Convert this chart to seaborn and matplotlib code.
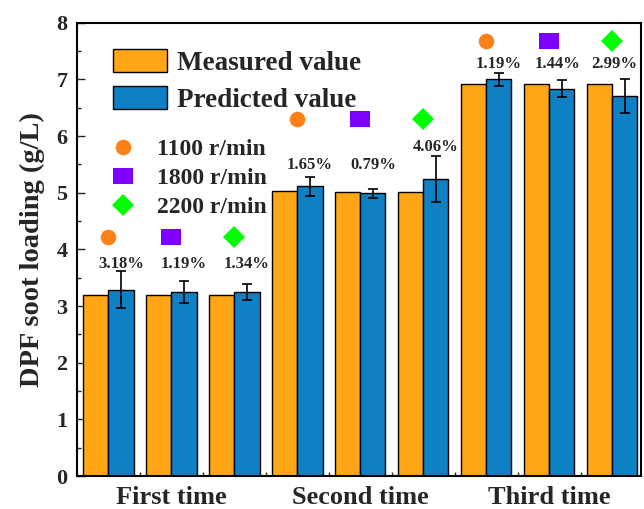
import matplotlib
matplotlib.use("Agg")
import matplotlib.pyplot as plt
import numpy as np
import pandas as pd
import seaborn as sns
from matplotlib.lines import Line2D
from matplotlib.patches import Patch

# values
runs = ["First time", "Second time", "Third time"]
speeds = ["1100 r/min", "1800 r/min", "2200 r/min"]
measured = [3.19, 3.19, 3.19, 5.03, 5.02, 5.02, 6.92, 6.92, 6.92]
predicted = [3.29, 3.25, 3.24, 5.11, 4.99, 5.24, 7.00, 6.83, 6.70]
pred_err = [0.32, 0.20, 0.14, 0.17, 0.08, 0.41, 0.12, 0.15, 0.30]
pct_labels = ["3.18%", "1.19%", "1.34%", "1.65%", "0.79%", "4.06%",
              "1.19%", "1.44%", "2.99%"]
pct_y = [3.74, 3.74, 3.74, 5.49, 5.49, 5.81, 7.27, 7.27, 7.27]
marker_y = [4.22, 6.30, 7.68]

bar_colors = ["#FFA516", "#1080C4"]
marker_colors = ["#FF8019", "#8000FF", "#00FF00"]
rect = [(-1, -0.8), (1, -0.8), (1, 0.8), (-1, 0.8), (-1, -0.8)]
marker_shapes = ["o", rect, "D"]
marker_sizes = [11.2, 14.4, 10.7]

n = len(measured)
slots = [f"{r}-{s}" for r in runs for s in speeds]
df = pd.DataFrame({
    "slot": slots * 2,
    "value": measured + predicted,
    "kind": ["Measured value"] * n + ["Predicted value"] * n,
})

sns.set_theme(style="ticks")
plt.rcParams["font.family"] = ["Liberation Serif", "DejaVu Serif"]
plt.rcParams["font.weight"] = "bold"
plt.rcParams["axes.labelweight"] = "bold"

fig = plt.figure(figsize=(6.44, 5.09), dpi=100)
ax = fig.add_axes([0.1196, 0.0648, 0.8758, 0.8906])

sns.barplot(data=df, x="slot", y="value", hue="kind", order=slots,
            palette=bar_colors, edgecolor="black", linewidth=1.0,
            errorbar=None, width=0.8, saturation=1, legend=False, ax=ax)

x = np.arange(n)
ax.errorbar(x + 0.2, predicted, yerr=pred_err, fmt="none", ecolor="black",
            elinewidth=1.2, capsize=3.6, capthick=1.2, zorder=5)

# small nudges so the right-most labels stay inside, as in the original
pct_dx = [0.2] * 7 + [0.14, 0.04]
for i in range(n):
    ax.text(x[i] + pct_dx[i], pct_y[i], pct_labels[i], ha="center",
            va="center", fontsize=12, fontweight="bold")
    g, k = divmod(i, 3)
    ax.plot(x[i], marker_y[g], linestyle="none", marker=marker_shapes[k],
            markersize=marker_sizes[k], color=marker_colors[k],
            markeredgewidth=0)

ax.set_xlim(-0.5, 8.46)
ax.set_ylim(0, 8)
ax.set_xticks([1, 4, 7])
ax.set_xticklabels(runs, fontsize=19, fontweight="bold")
ax.set_xticks(np.arange(0.5, 8, 1), minor=True)
ax.tick_params(axis="x", which="major", length=0, pad=7)
ax.tick_params(axis="x", which="minor", direction="in", length=3, width=1)
ax.set_yticks(range(0, 9))
ax.set_yticks(np.arange(0.5, 8, 1), minor=True)
ax.tick_params(axis="y", which="major", direction="in", length=6, width=1,
               labelsize=16, pad=7)
ax.tick_params(axis="y", which="minor", direction="in", length=3, width=1)
for lab in ax.get_yticklabels():
    lab.set_fontweight("bold")
ax.set_xlabel("")
ax.set_ylabel("DPF soot loading (g/L)", fontsize=20.5, fontweight="bold",
              labelpad=8)
for sp in ax.spines.values():
    sp.set_linewidth(1.5)
    sp.set_color("black")

bar_handles = [Patch(facecolor=c, edgecolor="black", linewidth=1.0)
               for c in bar_colors]
leg1 = ax.legend(bar_handles, ["Measured value", "Predicted value"],
                 loc="upper left", bbox_to_anchor=(0.064, 0.942),
                 frameon=False, borderpad=0, borderaxespad=0,
                 handlelength=2.0, handleheight=0.95, handletextpad=0.35,
                 labelspacing=0.36, prop={"size": 19.5, "weight": "bold"})
ax.add_artist(leg1)

speed_handles = [Line2D([], [], linestyle="none", marker=marker_shapes[k],
                        markersize=marker_sizes[k], color=marker_colors[k],
                        markeredgewidth=0) for k in range(3)]
ax.legend(speed_handles, speeds, loc="upper left",
          bbox_to_anchor=(0.06, 0.745), frameon=False, borderpad=0,
          borderaxespad=0, handlelength=1.0, handletextpad=0.95,
          labelspacing=0.33, prop={"size": 17, "weight": "bold"})

fig.savefig("out.png", dpi=100)
